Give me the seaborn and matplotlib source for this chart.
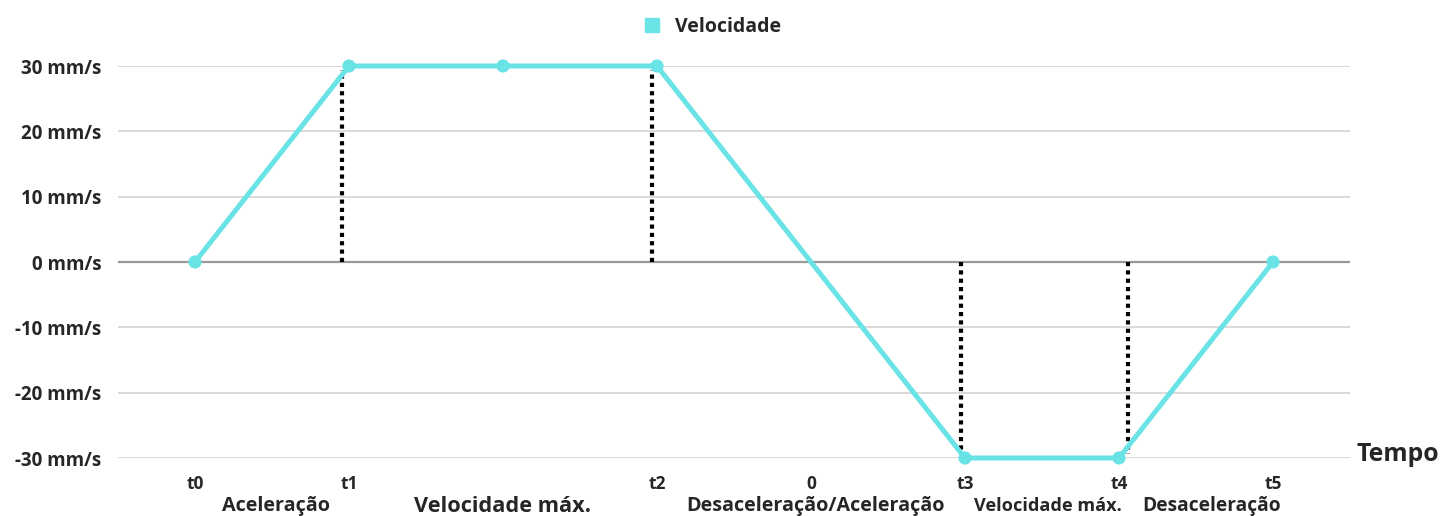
import pandas as pd
import matplotlib.pyplot as plt
import seaborn as sns

# dados do gráfico
tempos = ['t0', 't1', '', 't2', '0', 't3', 't4', 't5']
velocidade = [0, 30, 30, 30, 0, -30, -30, 0]
com_marcador = [True, True, True, True, False, True, True, True]
y_ticks = [30, 20, 10, 0, -10, -20, -30]
# linhas pontilhadas (posição no eixo x, valor final)
linhas_x = [0.955, 2.968, 4.974, 6.058]
linhas_y = [30, 30, -30, -30]
# rótulos das fases
fases = ['Aceleração', 'Velocidade máx.', 'Desaceleração/Aceleração', 'Velocidade máx.', 'Desaceleração']
fases_x = [0.525, 2.0, 4.03, 5.54, 6.6]
fases_tam = [14.2, 15.7, 14.2, 13.1, 13.8]

cor = '#6AE3E6'
peso = 'bold'

df = pd.DataFrame({'pos': range(len(tempos)), 'tempo': tempos, 'vel': velocidade, 'm': com_marcador})

sns.set_style('white')
plt.rcParams['font.family'] = ['Open Sans', 'DejaVu Sans']
plt.rcParams['font.weight'] = peso

fig = plt.figure(figsize=(14.4, 5.16), dpi=100)
ax = fig.add_axes([118 / 1440, 1 - 458 / 516, (1350 - 118) / 1440, (458 - 66) / 516])

# grade
for v in y_ticks:
    ax.axhline(v, color='#999999' if v == 0 else '#d4d4d4', lw=1.6 if v == 0 else 1.2, zorder=0)

# linhas pontilhadas
for x, y in zip(linhas_x, linhas_y):
    ax.plot([x, x], [0, y * 0.98], color='black', lw=3, ls=(0, (1, 1)), zorder=1, solid_capstyle='butt')

sns.lineplot(data=df, x='pos', y='vel', color=cor, lw=3.6, ax=ax, zorder=3, clip_on=False, label='Velocidade')
sns.scatterplot(data=df[df['m']], x='pos', y='vel', color=cor, s=90, edgecolor='none', ax=ax, zorder=4, clip_on=False)

ax.set_xlim(-0.5, 7.5)
ax.set_ylim(-30, 30)
ax.set_xticks(df['pos'])
ax.set_xticklabels(tempos, fontsize=12.5, fontweight=peso)
ax.set_yticks(y_ticks)
ax.set_yticklabels([f'{v} mm/s' for v in y_ticks], fontsize=13.5, fontweight=peso)
ax.tick_params(axis='both', length=0)
ax.tick_params(axis='y', pad=12)
ax.tick_params(axis='x', pad=12)
ax.set_xlabel('')
ax.set_ylabel('')
sns.despine(ax=ax, left=True, bottom=True)

for nome, x, t in zip(fases, fases_x, fases_tam):
    ax.text(x, -37.4, nome, ha='center', va='center', fontsize=t, fontweight=peso, clip_on=False)

ax.text(1.005, 0.008, 'Tempo', transform=ax.transAxes, ha='left', va='center', fontsize=17.8, fontweight=peso)

handle = plt.Line2D([], [], marker='s', color=cor, ls='none', markersize=10)
ax.legend([handle], ['Velocidade'], loc='center', bbox_to_anchor=(0.478, 1.1), frameon=False,
          prop={'weight': peso, 'size': 14}, handletextpad=0.2)

fig.savefig('out.png', dpi=100)
